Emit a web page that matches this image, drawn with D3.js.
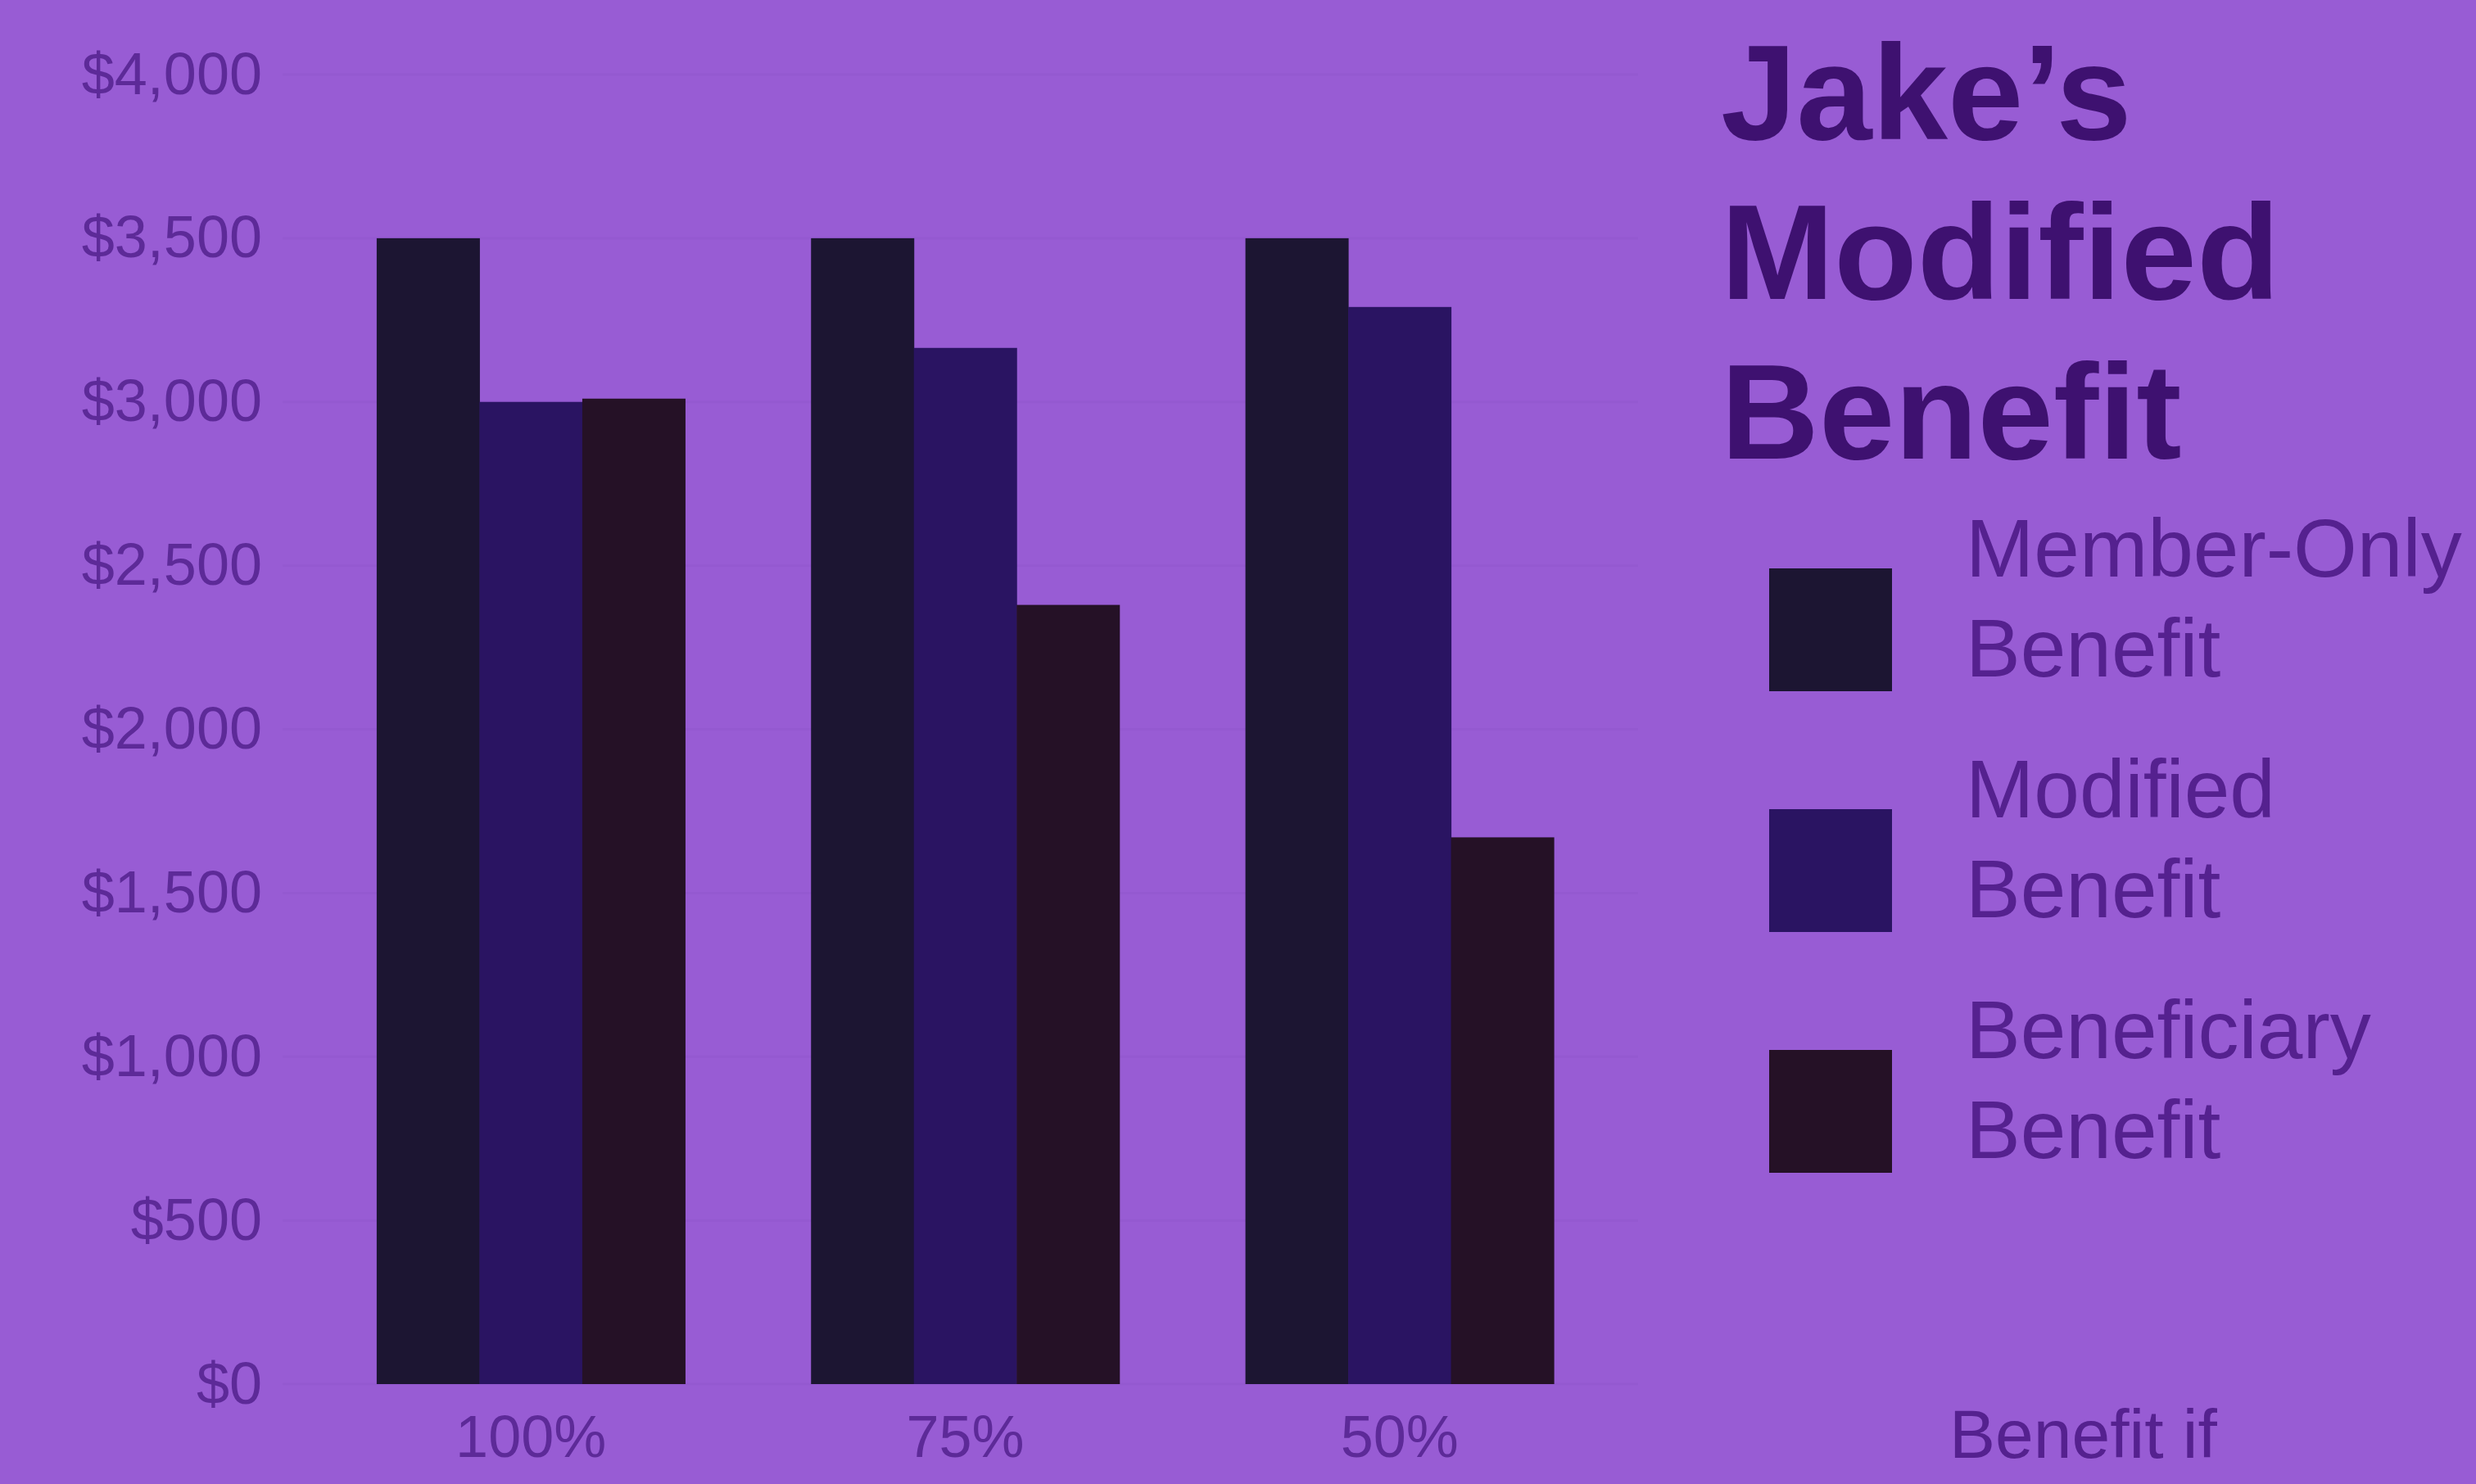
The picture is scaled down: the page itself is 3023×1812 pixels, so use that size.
<!DOCTYPE html>
<html>
<head>
<meta charset="utf-8">
<script src="https://cdn.jsdelivr.net/npm/d3@7"></script>
<style>
  html, body { margin: 0; padding: 0; background: #985cd4; }
  svg { display: block; }
</style>
</head>
<body>
<div id="chart"></div>
<script>
// ---- data ----
const categories = ["100%", "75%", "50%"];
const seriesNames = ["Member-Only Benefit", "Modified Benefit", "Beneficiary Benefit"];
const memberOnly = [3500, 3500, 3500];
const modified = [3000, 3165, 3290];
const beneficiary = [3010, 2380, 1670];
const yTicks = [0, 500, 1000, 1500, 2000, 2500, 3000, 3500, 4000];
const titleLines = ["Jake\u2019s", "Modified", "Benefit"];
const legendLines = [["Member-Only", "Benefit"], ["Modified", "Benefit"], ["Beneficiary", "Benefit"]];
const colors = ["#1c1532", "#2a1462", "#251126"];

const W = 3023, H = 1812;
const svg = d3.select("#chart").append("svg").attr("width", W).attr("height", H);
svg.append("rect").attr("width", W).attr("height", H).attr("fill", "#985cd4");

const table = categories.map((c, i) => ({
  cat: c,
  values: [memberOnly[i], modified[i], beneficiary[i]]
}));

const x0 = d3.scaleBand().domain(categories).range([383, 1974])
  .paddingInner(0.29).paddingOuter(0.145);
const x1 = d3.scaleBand().domain(d3.range(seriesNames.length)).range([0, x0.bandwidth()]);
const y = d3.scaleLinear().domain([0, 4000]).range([1690, 91]);

const font = "'Liberation Sans', Arial, sans-serif";

// very faint gridlines
svg.append("g").selectAll("line").data(yTicks).join("line")
  .attr("x1", 345).attr("x2", 2000)
  .attr("y1", d => y(d)).attr("y2", d => y(d))
  .attr("stroke", "#8f55ca").attr("stroke-width", 3).attr("opacity", 0.35);

// y axis
const yAxis = svg.append("g").attr("transform", "translate(330,0)")
  .call(d3.axisLeft(y).tickValues(yTicks).tickFormat(d3.format("$,")).tickSize(0).tickPadding(10));
yAxis.select(".domain").remove();
yAxis.selectAll("text").attr("font-family", font).attr("font-size", 72)
  .attr("fill", "#5d2a98");

// bars
const groups = svg.append("g").selectAll("g").data(table).join("g")
  .attr("transform", d => `translate(${x0(d.cat)},0)`);
groups.selectAll("rect").data(d => d.values.map((v, j) => ({v, j}))).join("rect")
  .attr("x", d => x1(d.j))
  .attr("width", x1.bandwidth() + 0.5)
  .attr("y", d => y(d.v))
  .attr("height", d => y(0) - y(d.v))
  .attr("fill", d => colors[d.j]);

// x axis
const xAxis = svg.append("g").attr("transform", `translate(0,${y(0)})`)
  .call(d3.axisBottom(x0).tickSize(0).tickPadding(38));
xAxis.select(".domain").remove();
xAxis.selectAll("text").attr("font-family", font).attr("font-size", 72)
  .attr("fill", "#5d2a98");

// title
svg.append("g").selectAll("text").data(titleLines).join("text")
  .attr("x", 2101).attr("y", (d, i) => 170 + i * 195)
  .attr("font-family", font).attr("font-weight", "bold").attr("font-size", 166)
  .attr("fill", "#3e1170").text(d => d);

// legend
const legendTops = [694, 988, 1282];
const leg = svg.append("g").selectAll("g").data(seriesNames).join("g")
  .attr("transform", (d, i) => `translate(2160,${legendTops[i]})`);
leg.append("rect").attr("width", 150).attr("height", 150)
  .attr("fill", (d, i) => colors[i]);
leg.each(function(d, i) {
  d3.select(this).selectAll("text").data(legendLines[i]).join("text")
    .attr("x", 240).attr("y", (t, k) => 10 + k * 122)
    .attr("font-family", font).attr("font-size", 100)
    .attr("fill", "#55218f").text(t => t);
});

// text at bottom edge (partly off-screen in reference)
svg.append("text").attr("x", 2380).attr("y", 1780)
  .attr("font-family", font).attr("font-size", 84)
  .attr("fill", "#55218f").text("Benefit if");
</script>
</body>
</html>
